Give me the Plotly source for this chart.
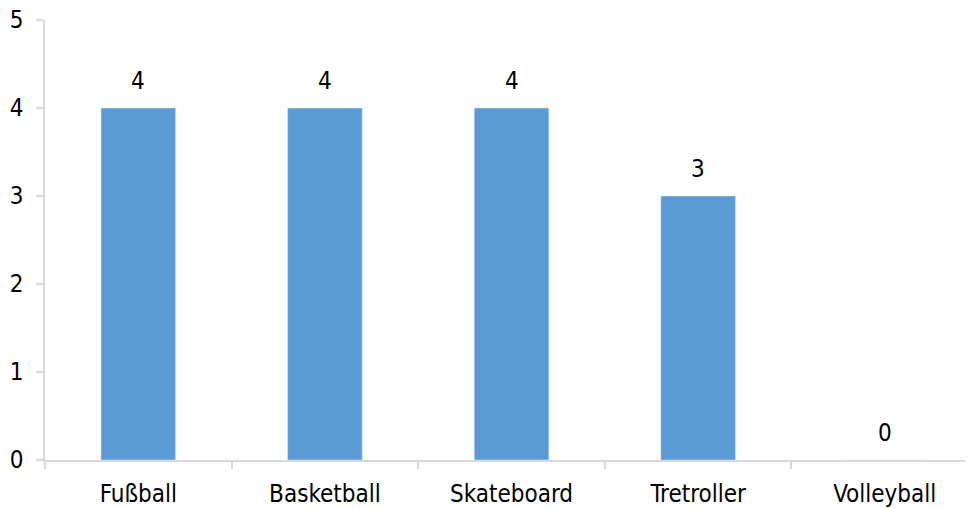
import plotly.graph_objects as go

categories = ["Fußball", "Basketball", "Skateboard", "Tretroller", "Volleyball"]
values = [4, 4, 4, 3, 0]
y_ticks = [0, 1, 2, 3, 4, 5]

FONT = "DejaVu Sans Condensed, Liberation Sans Narrow, Arial Narrow, sans-serif"
BAR_COLOR = "#5B9BD5"
AXIS_COLOR = "#D9D9D9"
FS = 24

fig = go.Figure()
fig.add_trace(go.Bar(
    x=categories, y=values, marker_color=BAR_COLOR, width=0.40,
    hoverinfo="skip",
))

for c, v in zip(categories, values):
    fig.add_annotation(x=c, y=v, text=str(v), showarrow=False,
                       yanchor="bottom", yshift=11,
                       font=dict(family=FONT, size=FS, color="#000000"))

fig.update_layout(
    width=968, height=509,
    margin=dict(l=45, r=3, t=20, b=49, autoexpand=False),
    paper_bgcolor="white", plot_bgcolor="white",
    showlegend=False,
    font=dict(family=FONT, size=FS, color="#000000"),
)
fig.update_xaxes(
    range=[-0.5, 4.43], showgrid=False, showline=True, linecolor=AXIS_COLOR,
    linewidth=1.5, ticks="outside", tickson="boundaries", ticklen=7,
    tickcolor=AXIS_COLOR, tickwidth=1.5, fixedrange=True, automargin=False,
    ticklabelstandoff=11, ticklabeloverflow="allow",
    tickfont=dict(family=FONT, size=FS, color="#000000"),
)
fig.update_yaxes(
    range=[0, 5], tickvals=y_ticks, showgrid=False, zeroline=False,
    showline=True, linecolor=AXIS_COLOR, linewidth=1.5,
    ticks="outside", ticklen=7, tickcolor=AXIS_COLOR, tickwidth=1.5,
    automargin=False, ticklabelstandoff=8, ticklabeloverflow="allow",
    tickfont=dict(family=FONT, size=FS, color="#000000"), fixedrange=True,
)

# remove the default 8px page margin so the 968x509 figure fills the window
fig.write_html(
    "out.html",
    config={"displayModeBar": False},
    post_script="document.body.style.margin='0';document.body.style.overflow='hidden';",
)
